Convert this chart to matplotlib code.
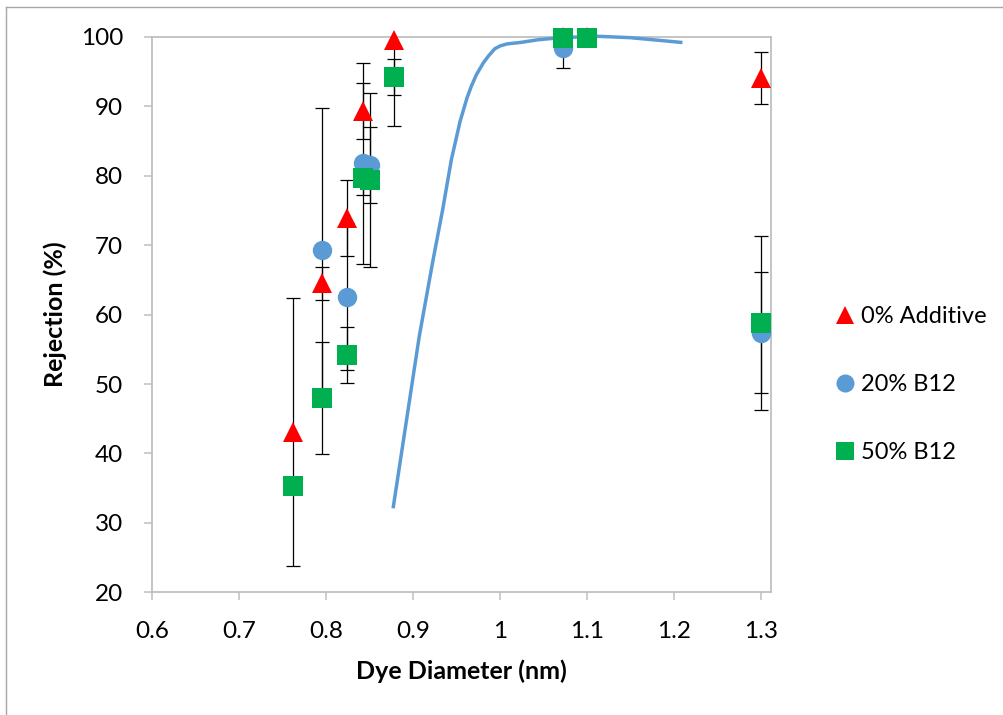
import numpy as np
import matplotlib
matplotlib.use("Agg")
import matplotlib.pyplot as plt
from matplotlib.lines import Line2D

plt.rcParams["font.family"] = ["Lato", "DejaVu Sans"]

# 0% additive (red triangles)
x_0 = [0.762, 0.795, 0.824, 0.842, 0.878, 1.072, 1.1, 1.3]
y_0 = [43.1, 64.5, 73.9, 89.3, 99.6, 100.0, 100.0, 94.1]
e_0 = [19.3, 2.4, 5.5, 4.0, 12.4, 0.0, 0.0, 3.7]

# 20% B12 (blue circles)
x_20 = [0.795, 0.824, 0.842, 0.85, 1.072, 1.3]
y_20 = [69.3, 62.6, 81.8, 81.6, 98.4, 57.4]
e_20 = [20.4, 10.6, 14.5, 5.5, 2.8, 8.7]

# 50% B12 (green squares)
x_50 = [0.762, 0.795, 0.824, 0.842, 0.85, 0.878, 1.072, 1.1, 1.3]
y_50 = [35.3, 48.0, 54.2, 79.7, 79.4, 94.2, 99.8, 99.9, 58.8]
e_50 = [1.0, 8.1, 4.0, 2.4, 12.5, 2.6, 0.5, 0.5, 12.5]

# model curve
x_fit = [0.877, 0.907, 0.923, 0.934, 0.944, 0.954, 0.962,
         0.967, 0.973, 0.981, 0.987, 0.994, 1.000, 1.008, 1.023, 1.044,
         1.07, 1.112, 1.15, 1.176, 1.210]
y_fit = [32.1, 56.8, 67.9, 75.1, 82.3, 87.8, 91.2,
         92.9, 94.6, 96.3, 97.3, 98.3, 98.7, 99.0, 99.2, 99.6,
         99.9, 100.1, 99.9, 99.6, 99.2]

x_ticks = [0.6, 0.7, 0.8, 0.9, 1.0, 1.1, 1.2, 1.3]
x_tick_labels = ["0.6", "0.7", "0.8", "0.9", "1", "1.1", "1.2", "1.3"]
y_ticks = [20, 30, 40, 50, 60, 70, 80, 90, 100]

red = "#FF0000"
blue = "#5B9BD5"
green = "#00B050"
grey = "#BFBFBF"

fig = plt.figure(figsize=(10.04, 7.15), dpi=100)
ax = fig.add_axes([0.1518, 0.1716, 0.6158, 0.7767])

err_kw = dict(fmt="none", ecolor="black", elinewidth=0.9, capsize=4.7,
              capthick=0.9, zorder=2)
ax.errorbar(x_0, y_0, yerr=e_0, **err_kw)
ax.errorbar(x_20, y_20, yerr=e_20, **err_kw)
ax.errorbar(x_50, y_50, yerr=e_50, **err_kw)

ax.plot(x_fit, y_fit, color=blue, linewidth=2.5, zorder=3, clip_on=False,
        solid_joinstyle="round", solid_capstyle="butt")

ms = 14
ax.plot(x_0, y_0, linestyle="none", marker="^", markersize=ms,
        color=red, markeredgewidth=0, zorder=4, clip_on=False)
ax.plot(x_20, y_20, linestyle="none", marker="o", markersize=ms,
        color=blue, markeredgewidth=0, zorder=5, clip_on=False)
ax.plot(x_50, y_50, linestyle="none", marker="s", markersize=ms,
        color=green, markeredgewidth=0, zorder=6, clip_on=False)

ax.set_xlim(0.6, 1.3115)
ax.set_ylim(20, 100)
ax.set_xticks(x_ticks)
ax.set_xticklabels(x_tick_labels)
ax.set_yticks(y_ticks)

for sp in ax.spines.values():
    sp.set_color(grey)
    sp.set_linewidth(1.3)

ax.tick_params(axis="both", direction="out", length=6, width=1.1,
               color=grey, labelsize=17.5, labelcolor="black")
ax.tick_params(axis="x", pad=15)
ax.tick_params(axis="y", pad=15)

ax.set_xlabel("Dye Diameter (nm)", fontsize=18, fontweight="bold", labelpad=12)
ax.set_ylabel("Rejection (%)", fontsize=18, fontweight="bold", labelpad=10)

handles = [
    Line2D([], [], linestyle="none", marker="^", markersize=13, color=red,
           markeredgewidth=0),
    Line2D([], [], linestyle="none", marker="o", markersize=13, color=blue,
           markeredgewidth=0),
    Line2D([], [], linestyle="none", marker="s", markersize=13, color=green,
           markeredgewidth=0),
]
fig.legend(handles, ["0% Additive", "20% B12", "50% B12"],
           loc="center left", bbox_to_anchor=(0.811, 0.462),
           frameon=False, fontsize=17, handlelength=0.8,
           handletextpad=0.3, labelspacing=2.0)

# outer chart border (left and top edges only)
fig.add_artist(Line2D([0.006, 0.006], [0.0, 0.99], transform=fig.transFigure,
                      color="#A6A6A6", linewidth=1.0))
fig.add_artist(Line2D([0.006, 1.0], [0.99, 0.99], transform=fig.transFigure,
                      color="#A6A6A6", linewidth=1.0))

fig.savefig("out.png", dpi=100)
